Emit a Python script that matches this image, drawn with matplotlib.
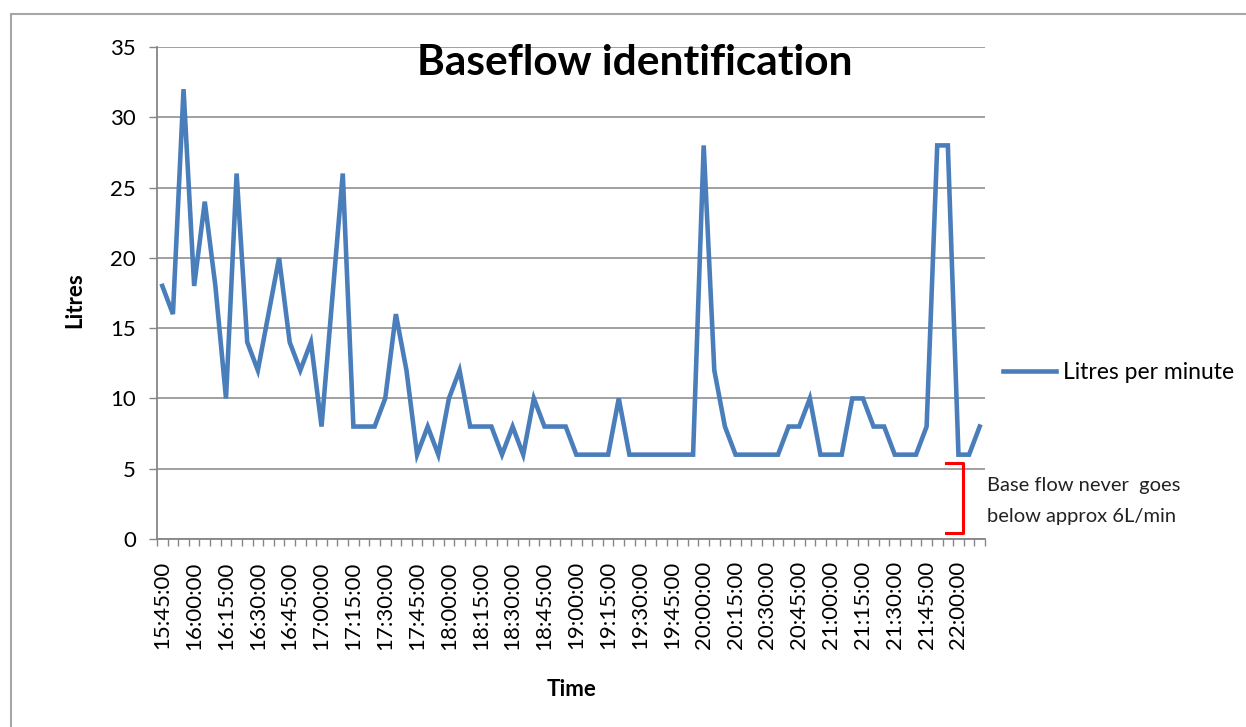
import numpy as np
import matplotlib
matplotlib.use('Agg')
import matplotlib.pyplot as plt
from matplotlib.patches import Rectangle

plt.rcParams['font.family'] = ['Lato', 'DejaVu Sans']

# readings every 5 minutes, 15:45 to 22:10
litres = [18, 16, 32, 18, 24, 18, 10, 26, 14, 12, 16, 20, 14, 12, 14, 8,
          17, 26, 8, 8, 8, 10, 16, 12, 6, 8, 6, 10, 12, 8, 8, 8,
          6, 8, 6, 10, 8, 8, 8, 6, 6, 6, 6, 10, 6, 6, 6, 6,
          6, 6, 6, 28, 12, 8, 6, 6, 6, 6, 6, 8, 8, 10, 6, 6,
          6, 10, 10, 8, 8, 6, 6, 6, 8, 28, 28, 6, 6, 8]

tick_labels = ['15:45:00', '16:00:00', '16:15:00', '16:30:00', '16:45:00',
               '17:00:00', '17:15:00', '17:30:00', '17:45:00', '18:00:00',
               '18:15:00', '18:30:00', '18:45:00', '19:00:00', '19:15:00',
               '19:30:00', '19:45:00', '20:00:00', '20:15:00', '20:30:00',
               '20:45:00', '21:00:00', '21:15:00', '21:30:00', '21:45:00',
               '22:00:00']

y_ticks = [0, 5, 10, 15, 20, 25, 30, 35]

# bracket marking the base flow band
bracket_x = [73.8, 75.4, 75.4, 73.8]
bracket_y = [5.4, 5.4, 0.4, 0.4]

W, H = 1246, 727
fig = plt.figure(figsize=(W / 100, H / 100), dpi=100)

# chart area border
fig.patches.append(Rectangle((11 / W, -0.1), 1.2, 1 - 14 / H + 0.1,
                             transform=fig.transFigure, fill=False,
                             edgecolor='#a6a6a6', lw=1.5))

ax = fig.add_axes([157 / W, 1 - 539 / H, (985 - 157) / W, (539 - 47) / H])

x = np.arange(len(litres))
line, = ax.plot(x, litres, color='#4a7ebb', lw=3.3, label='Litres per minute',
                solid_joinstyle='miter')

ax.set_xlim(-0.5, len(litres) - 0.5)
ax.set_ylim(0, 35)
ax.set_yticks(y_ticks)
ax.yaxis.grid(True, color='#868686', lw=1.1)
ax.set_axisbelow(True)

ax.set_xticks(x[::3][:len(tick_labels)])
ax.set_xticklabels(tick_labels, rotation=90, fontsize=16)
ax.set_xticks(np.arange(-0.5, len(litres)), minor=True)
ax.tick_params(axis='x', which='major', length=0, pad=16)
ax.tick_params(axis='x', which='minor', length=5, color='#868686', width=1)
ax.tick_params(axis='y', length=6, color='#868686', width=1, labelsize=16, pad=9)

for s in ['top', 'right']:
    ax.spines[s].set_visible(False)
for s in ['left', 'bottom']:
    ax.spines[s].set_color('#868686')
    ax.spines[s].set_linewidth(1.3)

ax.plot(bracket_x, bracket_y, color='red', lw=2.2, clip_on=False)
ax.text(1.003, 3.8, 'Base flow never  goes', transform=ax.get_yaxis_transform(),
        fontsize=14.5, va='center', ha='left', color='#222222')
ax.text(1.003, 1.6, 'below approx 6L/min', transform=ax.get_yaxis_transform(),
        fontsize=14.5, va='center', ha='left', color='#222222')

fig.text(635 / W, 1 - 63 / H, 'Baseflow identification', fontsize=30.5,
         fontweight='bold', ha='center', va='center')
fig.text(75 / W, 1 - 300 / H, 'Litres', fontsize=16, fontweight='bold',
         rotation=90, ha='center', va='center')
fig.text(572 / W, 1 - 690 / H, 'Time', fontsize=16, fontweight='bold',
         ha='center', va='center')

fig.legend(handles=[line], loc='center left', frameon=False, fontsize=16.5,
           bbox_to_anchor=(994 / W, 1 - 373 / H), borderaxespad=0,
           handlelength=2.3, handletextpad=0.3)

fig.savefig('out.png', dpi=100)
